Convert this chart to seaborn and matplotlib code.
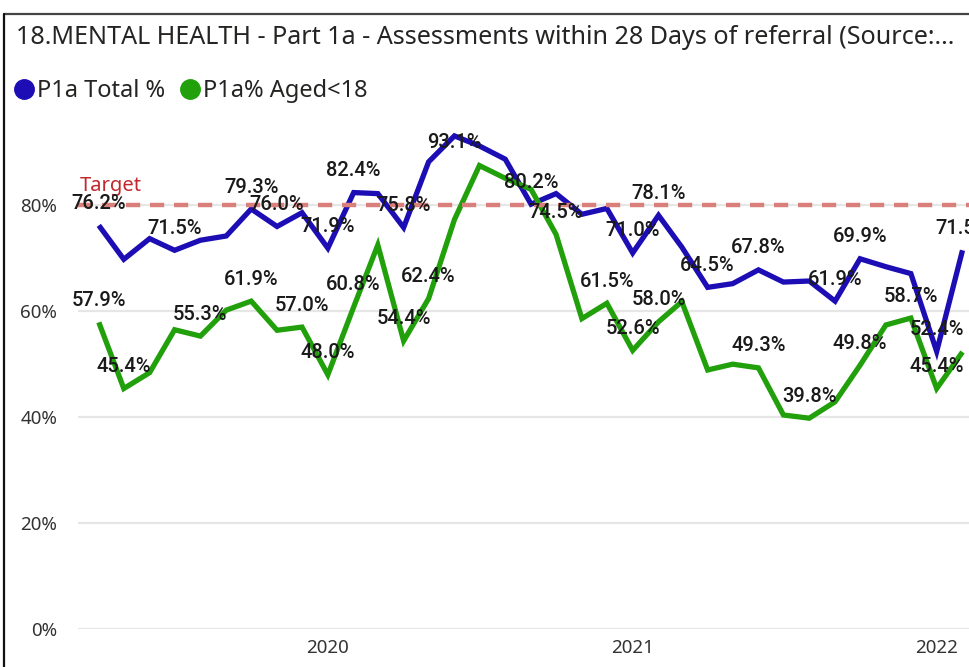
import matplotlib

matplotlib.use("Agg")
import matplotlib.dates as mdates
import matplotlib.pyplot as plt
import pandas as pd
import seaborn as sns
from matplotlib.lines import Line2D
from matplotlib.ticker import FuncFormatter


# monthly values, Apr 2019 .. Feb 2022
months = pd.date_range("2019-04-01", "2022-02-01", freq="MS")
total_pct = [76.2, 69.8, 73.7, 71.5, 73.4, 74.2, 79.3, 76.0, 78.6, 71.9,
             82.4, 82.2, 75.8, 88.2, 93.1, 91.2, 88.7, 80.2, 82.2, 78.3,
             79.4, 71.0, 78.1, 72.1, 64.5, 65.2, 67.8, 65.5, 65.7, 61.9,
             69.9, 68.4, 67.1, 52.4, 71.5]
under18_pct = [57.9, 45.4, 48.4, 56.5, 55.3, 60.2, 61.9, 56.4, 57.0, 48.0,
               60.8, 72.5, 54.4, 62.4, 77.3, 87.5, 85.1, 83.0, 74.5, 58.6,
               61.5, 52.6, 58.0, 61.8, 48.9, 50.0, 49.3, 40.4, 39.8, 42.9,
               49.8, 57.4, 58.7, 45.4, 52.3]
# which points carry a data label in the original visual
total_labelled = [0, 3, 6, 7, 9, 10, 12, 14, 17, 21, 22, 24, 26, 29, 30, 33, 34]
under18_labelled = [0, 1, 4, 6, 8, 9, 10, 12, 13, 18, 20, 21, 22, 26, 28, 30, 32, 33]
target = 80
series_names = ["P1a Total %", "P1a% Aged<18"]
colors = ["#1c0db4", "#22a00c"]

TITLE = "18.MENTAL HEALTH - Part 1a - Assessments within 28 Days of referral (Source:..."

sns.set_style("white")
plt.rcParams["font.family"] = ["Noto Sans", "DejaVu Sans"]

df = pd.concat([
    pd.DataFrame({"month": months, "pct": total_pct, "series": series_names[0]}),
    pd.DataFrame({"month": months, "pct": under18_pct, "series": series_names[1]}),
])

fig = plt.figure(figsize=(9.7, 6.67), dpi=100)
ax = fig.add_axes([0.0804, 0.057, 0.9196, 0.748])
y_top = 94.2

sns.lineplot(data=df, x="month", y="pct", hue="series", palette=colors,
             linewidth=3.8, legend=False, ax=ax, zorder=3)
for line in ax.lines:
    line.set_solid_joinstyle("miter")
    line.set_solid_capstyle("butt")

# target line
ax.axhline(target, color="#d9807c", linewidth=3.2, dashes=(3.2, 2.2), zorder=4)
ax.annotate("Target", xy=(0, target), xycoords=ax.get_yaxis_transform(),
            xytext=(1, 10.5), textcoords="offset points", color="#c0282d",
            fontsize=14.5, va="baseline", ha="left")

# data labels
for values, idxs in [(total_pct, total_labelled), (under18_pct, under18_labelled)]:
    for i in idxs:
        y = min(values[i] + 4.15, y_top - 2.3)
        ax.text(months[i], y, f"{values[i]:.1f}%", ha="center", va="center",
                fontsize=14.5, family="Roboto", fontweight="medium",
                color="#1a1a1a", zorder=5)

ax.set_ylim(0, y_top)
ax.set_xlim(pd.Timestamp("2019-03-07"), pd.Timestamp("2022-02-10"))
ax.set_yticks([0, 20, 40, 60, 80])
ax.yaxis.set_major_formatter(FuncFormatter(lambda v, _: f"{v:.0f}%"))
ax.xaxis.set_major_locator(mdates.YearLocator())
ax.xaxis.set_major_formatter(mdates.DateFormatter("%Y"))
ax.tick_params(axis="y", length=0, pad=15, labelsize=13.5, labelcolor="#333333")
ax.tick_params(axis="x", length=0, pad=7, labelsize=13.5, labelcolor="#333333")
ax.grid(axis="y", color="#e6e6e6", linewidth=1.6)
ax.set_xlabel("")
ax.set_ylabel("")
sns.despine(ax=ax, left=True, bottom=True)

# title, legend and visual frame
fig.text(16 / 970, 1 - 37 / 667, TITLE, fontsize=18.1, va="center", ha="left",
         color="#252423")
handles = [Line2D([], [], marker="o", linestyle="", markersize=14,
                  markerfacecolor=c, markeredgecolor=c) for c in colors]
fig.legend(handles, series_names, loc="center left",
           bbox_to_anchor=(17 / 970, 1 - 91 / 667), ncol=2, frameon=False,
           handlelength=0.6, handletextpad=0.25, columnspacing=0.75,
           borderaxespad=0, borderpad=0, fontsize=17, labelcolor="#252423")
fig.add_artist(Line2D([4 / 970, 1], [1 - 14 / 667] * 2, color="#444444",
                      linewidth=1.6, transform=fig.transFigure))
fig.add_artist(Line2D([4 / 970] * 2, [0, 1 - 14 / 667], color="#111111",
                      linewidth=1.6, transform=fig.transFigure))

fig.savefig("out.png", dpi=100)
plt.close(fig)
